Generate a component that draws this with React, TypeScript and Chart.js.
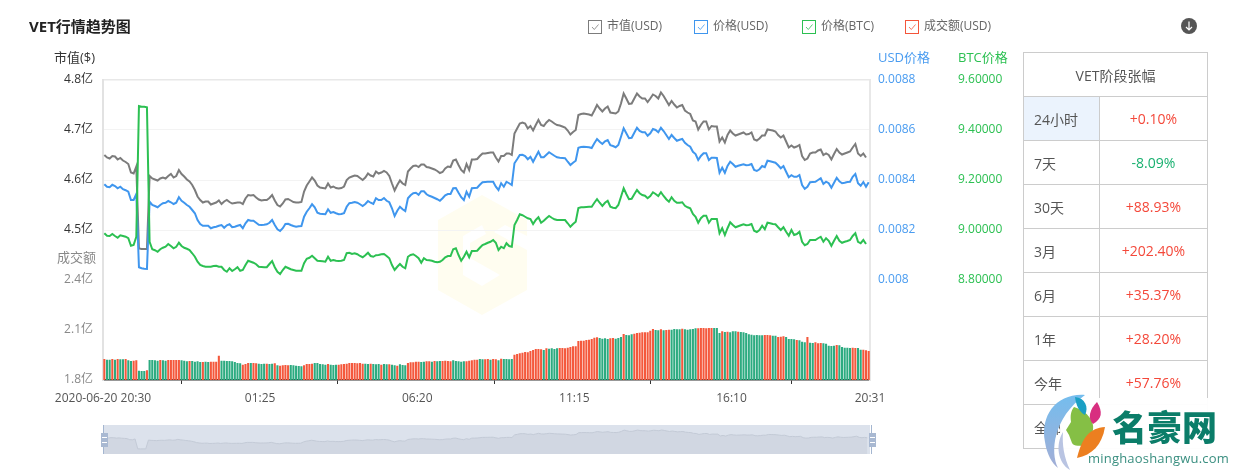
import { useEffect, useRef } from "react"
import { Chart, type ChartConfiguration, registerables } from "chart.js"

Chart.register(...registerables)

const FONT = '"Open Sans", "Noto Sans CJK SC", sans-serif'

// 市值 (亿 USD)
const marketCap = [
  4.650, 4.645, 4.643, 4.648, 4.647, 4.641, 4.644, 4.639, 4.636, 4.632,
  4.615, 4.613, 4.627, 4.463, 4.462, 4.462, 4.462, 4.608, 4.603, 4.601,
  4.599, 4.603, 4.605, 4.603, 4.608, 4.612, 4.605, 4.608, 4.620, 4.612,
  4.607, 4.601, 4.597, 4.590, 4.580, 4.567, 4.560, 4.555, 4.557, 4.557,
  4.551, 4.553, 4.555, 4.559, 4.552, 4.557, 4.560, 4.556, 4.553, 4.554,
  4.555, 4.555, 4.552, 4.563, 4.570, 4.569, 4.570, 4.565, 4.561, 4.559,
  4.560, 4.560, 4.564, 4.570, 4.559, 4.550, 4.547, 4.553, 4.561, 4.562,
  4.559, 4.556, 4.555, 4.555, 4.556, 4.577, 4.589, 4.597, 4.605, 4.599,
  4.589, 4.585, 4.584, 4.583, 4.593, 4.585, 4.587, 4.584, 4.583, 4.584,
  4.587, 4.600, 4.605, 4.607, 4.609, 4.608, 4.604, 4.600, 4.605, 4.613,
  4.609, 4.607, 4.617, 4.613, 4.615, 4.618, 4.615, 4.608, 4.593, 4.579,
  4.590, 4.599, 4.593, 4.590, 4.617, 4.623, 4.628, 4.629, 4.626, 4.631,
  4.631, 4.626, 4.625, 4.623, 4.621, 4.618, 4.614, 4.616, 4.623, 4.627,
  4.626, 4.639, 4.641, 4.630, 4.620, 4.615, 4.632, 4.620, 4.641, 4.641,
  4.642, 4.648, 4.653, 4.653, 4.654, 4.655, 4.655, 4.645, 4.637, 4.648,
  4.648, 4.653, 4.653, 4.650, 4.693, 4.703, 4.713, 4.715, 4.713, 4.703,
  4.708, 4.699, 4.710, 4.720, 4.710, 4.708, 4.715, 4.720, 4.717, 4.713,
  4.710, 4.709, 4.707, 4.705, 4.699, 4.691, 4.696, 4.700, 4.730, 4.732,
  4.733, 4.732, 4.731, 4.729, 4.739, 4.750, 4.743, 4.737, 4.743, 4.747,
  4.735, 4.734, 4.733, 4.737, 4.753, 4.773, 4.763, 4.752, 4.753, 4.763,
  4.773, 4.767, 4.763, 4.763, 4.756, 4.763, 4.771, 4.768, 4.763, 4.775,
  4.768, 4.759, 4.750, 4.758, 4.751, 4.745, 4.748, 4.750, 4.739, 4.735,
  4.732, 4.719, 4.717, 4.701, 4.710, 4.717, 4.717, 4.701, 4.708, 4.707,
  4.707, 4.677, 4.685, 4.675, 4.690, 4.699, 4.693, 4.689, 4.691, 4.693,
  4.695, 4.691, 4.692, 4.695, 4.681, 4.679, 4.683, 4.689, 4.689, 4.701,
  4.700, 4.699, 4.697, 4.690, 4.685, 4.689, 4.677, 4.665, 4.669, 4.665,
  4.667, 4.670, 4.648, 4.640, 4.643, 4.653, 4.655, 4.655, 4.659, 4.661,
  4.650, 4.653, 4.650, 4.641, 4.652, 4.662, 4.655, 4.651, 4.653, 4.655,
  4.657, 4.665, 4.672, 4.653, 4.648, 4.653, 4.645, null,
]

const priceUsd = [
  0.008383, 0.008373, 0.008371, 0.008381, 0.008376, 0.008367, 0.008373, 0.008363, 0.008359, 0.008353,
  0.008320, 0.008320, 0.008344, 0.008051, 0.008047, 0.008045, 0.008044, 0.008313, 0.008300, 0.008296,
  0.008291, 0.008300, 0.008307, 0.008309, 0.008316, 0.008311, 0.008304, 0.008309, 0.008331, 0.008317,
  0.008309, 0.008300, 0.008293, 0.008280, 0.008267, 0.008240, 0.008224, 0.008217, 0.008217, 0.008217,
  0.008207, 0.008211, 0.008213, 0.008217, 0.008220, 0.008209, 0.008219, 0.008223, 0.008211, 0.008213,
  0.008217, 0.008220, 0.008207, 0.008227, 0.008240, 0.008237, 0.008237, 0.008229, 0.008221, 0.008220,
  0.008221, 0.008223, 0.008229, 0.008240, 0.008220, 0.008203, 0.008196, 0.008207, 0.008224, 0.008225,
  0.008220, 0.008216, 0.008213, 0.008215, 0.008216, 0.008253, 0.008273, 0.008287, 0.008303, 0.008291,
  0.008269, 0.008265, 0.008264, 0.008263, 0.008283, 0.008269, 0.008272, 0.008267, 0.008263, 0.008264,
  0.008267, 0.008293, 0.008307, 0.008309, 0.008312, 0.008309, 0.008303, 0.008296, 0.008304, 0.008316,
  0.008309, 0.008304, 0.008327, 0.008320, 0.008320, 0.008328, 0.008317, 0.008311, 0.008287, 0.008256,
  0.008277, 0.008293, 0.008283, 0.008276, 0.008327, 0.008339, 0.008347, 0.008349, 0.008341, 0.008355,
  0.008355, 0.008343, 0.008337, 0.008333, 0.008328, 0.008323, 0.008317, 0.008327, 0.008339, 0.008344,
  0.008344, 0.008367, 0.008368, 0.008349, 0.008331, 0.008320, 0.008353, 0.008333, 0.008367, 0.008368,
  0.008369, 0.008381, 0.008391, 0.008392, 0.008393, 0.008393, 0.008393, 0.008373, 0.008360, 0.008387,
  0.008373, 0.008393, 0.008387, 0.008380, 0.008467, 0.008483, 0.008500, 0.008501, 0.008496, 0.008483,
  0.008493, 0.008473, 0.008493, 0.008513, 0.008491, 0.008491, 0.008501, 0.008511, 0.008504, 0.008497,
  0.008491, 0.008489, 0.008488, 0.008487, 0.008473, 0.008460, 0.008469, 0.008477, 0.008529, 0.008532,
  0.008533, 0.008532, 0.008531, 0.008528, 0.008547, 0.008564, 0.008553, 0.008544, 0.008555, 0.008560,
  0.008539, 0.008536, 0.008531, 0.008540, 0.008573, 0.008607, 0.008587, 0.008567, 0.008569, 0.008589,
  0.008609, 0.008596, 0.008591, 0.008591, 0.008577, 0.008587, 0.008604, 0.008600, 0.008591, 0.008609,
  0.008596, 0.008580, 0.008564, 0.008580, 0.008568, 0.008557, 0.008561, 0.008564, 0.008549, 0.008540,
  0.008533, 0.008513, 0.008504, 0.008480, 0.008496, 0.008507, 0.008507, 0.008480, 0.008489, 0.008489,
  0.008488, 0.008429, 0.008449, 0.008429, 0.008456, 0.008473, 0.008464, 0.008453, 0.008457, 0.008460,
  0.008463, 0.008459, 0.008460, 0.008464, 0.008440, 0.008436, 0.008443, 0.008456, 0.008451, 0.008477,
  0.008475, 0.008472, 0.008469, 0.008459, 0.008447, 0.008456, 0.008433, 0.008411, 0.008419, 0.008413,
  0.008413, 0.008420, 0.008380, 0.008365, 0.008373, 0.008391, 0.008392, 0.008393, 0.008400, 0.008407,
  0.008384, 0.008393, 0.008387, 0.008369, 0.008389, 0.008409, 0.008395, 0.008387, 0.008389, 0.008392,
  0.008393, 0.008413, 0.008424, 0.008387, 0.008377, 0.008392, 0.008373, 0.008391,
]

const priceBtc = [
  8.987, 8.977, 8.976, 8.984, 8.976, 8.969, 8.979, 8.976, 8.973, 8.967,
  8.937, 8.940, 8.973, 9.496, 9.493, 9.493, 9.491, 8.953, 8.923, 8.919,
  8.913, 8.923, 8.929, 8.933, 8.944, 8.936, 8.927, 8.933, 8.949, 8.936,
  8.929, 8.925, 8.920, 8.907, 8.893, 8.873, 8.860, 8.856, 8.853, 8.853,
  8.853, 8.856, 8.857, 8.853, 8.853, 8.840, 8.833, 8.847, 8.836, 8.843,
  8.851, 8.837, 8.840, 8.860, 8.877, 8.873, 8.869, 8.863, 8.853, 8.852,
  8.851, 8.851, 8.864, 8.876, 8.851, 8.833, 8.824, 8.840, 8.853, 8.848,
  8.843, 8.840, 8.837, 8.837, 8.837, 8.867, 8.885, 8.889, 8.897, 8.887,
  8.877, 8.876, 8.875, 8.873, 8.893, 8.877, 8.880, 8.877, 8.876, 8.877,
  8.880, 8.907, 8.909, 8.904, 8.907, 8.903, 8.896, 8.891, 8.899, 8.909,
  8.896, 8.893, 8.899, 8.900, 8.903, 8.904, 8.896, 8.887, 8.860, 8.840,
  8.853, 8.864, 8.853, 8.847, 8.893, 8.900, 8.903, 8.896, 8.887, 8.869,
  8.887, 8.880, 8.879, 8.877, 8.873, 8.871, 8.873, 8.880, 8.891, 8.896,
  8.896, 8.923, 8.927, 8.900, 8.877, 8.893, 8.913, 8.891, 8.916, 8.916,
  8.917, 8.929, 8.940, 8.944, 8.949, 8.953, 8.960, 8.949, 8.920, 8.933,
  8.927, 8.947, 8.936, 8.933, 9.020, 9.040, 9.063, 9.059, 9.053, 9.047,
  9.044, 9.024, 9.040, 9.051, 9.029, 9.037, 9.047, 9.056, 9.049, 9.043,
  9.040, 9.040, 9.040, 9.040, 9.027, 9.013, 9.024, 9.033, 9.088, 9.091,
  9.091, 9.092, 9.093, 9.093, 9.109, 9.123, 9.109, 9.096, 9.109, 9.117,
  9.093, 9.089, 9.087, 9.100, 9.133, 9.167, 9.144, 9.123, 9.125, 9.143,
  9.160, 9.147, 9.140, 9.137, 9.127, 9.136, 9.151, 9.144, 9.136, 9.151,
  9.136, 9.123, 9.113, 9.131, 9.117, 9.109, 9.109, 9.111, 9.097, 9.091,
  9.087, 9.064, 9.053, 9.029, 9.047, 9.057, 9.057, 9.029, 9.044, 9.044,
  9.044, 8.987, 9.007, 8.980, 9.007, 9.031, 9.020, 9.011, 9.015, 9.019,
  9.023, 9.019, 9.020, 9.024, 8.997, 8.992, 9.000, 9.017, 9.003, 9.029,
  9.027, 9.024, 9.023, 9.011, 9.000, 9.011, 8.993, 8.977, 9.000, 8.980,
  8.984, 8.993, 8.953, 8.939, 8.944, 8.960, 8.960, 8.960, 8.967, 8.973,
  8.953, 8.967, 8.957, 8.937, 8.957, 8.976, 8.957, 8.949, 8.953, 8.956,
  8.960, 8.976, 8.987, 8.953, 8.947, 8.960, 8.944, null,
]

// 成交额 (亿 USD)
const volume = [
  1.926, 1.922, 1.922, 1.926, 1.922, 1.926, 1.924, 1.924, 1.926, 1.918,
  1.914, 1.916, 1.918, 1.856, 1.854, 1.854, 1.858, 1.920, 1.920, 1.918,
  1.916, 1.920, 1.918, 1.916, 1.920, 1.920, 1.920, 1.920, 1.920, 1.918,
  1.916, 1.912, 1.914, 1.914, 1.910, 1.912, 1.908, 1.908, 1.910, 1.908,
  1.910, 1.910, 1.910, 1.946, 1.916, 1.916, 1.914, 1.914, 1.912, 1.908,
  1.902, 1.900, 1.892, 1.896, 1.902, 1.902, 1.902, 1.900, 1.898, 1.896,
  1.898, 1.898, 1.896, 1.898, 1.900, 1.888, 1.886, 1.888, 1.890, 1.888,
  1.890, 1.888, 1.886, 1.884, 1.882, 1.888, 1.896, 1.896, 1.898, 1.902,
  1.902, 1.896, 1.894, 1.892, 1.896, 1.892, 1.890, 1.892, 1.892, 1.894,
  1.896, 1.898, 1.902, 1.902, 1.902, 1.900, 1.902, 1.898, 1.898, 1.896,
  1.898, 1.896, 1.894, 1.896, 1.892, 1.896, 1.894, 1.894, 1.892, 1.888,
  1.886, 1.894, 1.890, 1.888, 1.902, 1.906, 1.906, 1.910, 1.910, 1.908,
  1.910, 1.912, 1.912, 1.910, 1.914, 1.912, 1.914, 1.914, 1.916, 1.914,
  1.912, 1.918, 1.914, 1.912, 1.910, 1.912, 1.912, 1.916, 1.918, 1.922,
  1.922, 1.926, 1.924, 1.924, 1.926, 1.922, 1.926, 1.924, 1.918, 1.928,
  1.926, 1.926, 1.924, 1.926, 1.952, 1.956, 1.960, 1.964, 1.968, 1.966,
  1.974, 1.980, 1.986, 1.986, 1.984, 1.980, 1.990, 1.988, 1.990, 1.986,
  1.990, 1.992, 1.992, 1.990, 1.994, 1.998, 2.002, 2.002, 2.034, 2.036,
  2.036, 2.040, 2.042, 2.046, 2.054, 2.056, 2.052, 2.048, 2.050, 2.046,
  2.050, 2.052, 2.048, 2.052, 2.058, 2.076, 2.070, 2.068, 2.074, 2.078,
  2.082, 2.084, 2.086, 2.086, 2.086, 2.096, 2.106, 2.100, 2.098, 2.104,
  2.098, 2.100, 2.102, 2.102, 2.106, 2.104, 2.104, 2.108, 2.104, 2.102,
  2.104, 2.106, 2.110, 2.110, 2.112, 2.112, 2.110, 2.112, 2.112, 2.112,
  2.112, 2.082, 2.092, 2.088, 2.090, 2.086, 2.092, 2.092, 2.090, 2.088,
  2.086, 2.082, 2.074, 2.072, 2.068, 2.070, 2.068, 2.068, 2.070, 2.070,
  2.068, 2.066, 2.066, 2.058, 2.060, 2.062, 2.058, 2.046, 2.046, 2.044,
  2.040, 2.038, 2.030, 2.026, 2.058, 2.024, 2.022, 2.026, 2.020, 2.022,
  2.020, 2.018, 2.006, 2.004, 2.006, 2.010, 2.008, 1.998, 1.994, 1.994,
  1.992, 1.994, 1.992, 1.992, 1.982, 1.982, 1.978, 1.974,
]

// r = 涨, g = 跌
const volumeSide = (
  "rggrgrggrg" + "grrgggrggg" + "grggrrrrrg" + "ggrggggrgg" + "rrrrgggggg" + "ggrrrgrrgg" +
  "grggrgrrrr" + "gggggrrrrg" + "ggggrgggrr" + "rrrrrrrrgg" + "rgggrggrgg" + "rgggrrrrrg" +
  "grrgrggrrr" + "rgggggrrrr" + "rggrrgrrgr" + "ggggrrrrrr" + "rrrrrgrggg" + "grrrrrrrrr" +
  "rrrrrrgggg" + "rrgggrgggr" + "rrrrrrrggr" + "grrggggrgg" + "gggrrrrrrg" + "ggrgrgggrg" +
  "ggggggggrr" + "rggrrrgggg" + "rgggrggrrr" + "gggggrgggg" + "grrggrrr"
).split("")

const timeLabels = marketCap.map((_, i) => {
  const m = (20 * 60 + 30 + i * 5) % 1440
  return `${String(Math.floor(m / 60)).padStart(2, "0")}:${String(m % 60).padStart(2, "0")}`
})

// x 轴文字和刻度线不在同一位置
const axisLabels: Record<string, string> = {
  "-0.5": "2020-06-20 20:30",
  "58.5": "01:25",
  "117.5": "06:20",
  "176.5": "11:15",
  "235.5": "16:10",
  "287.5": "20:31",
}
const axisMarks = [29, 87.5, 146.5, 205, 258]

const legendItems = [
  { label: "市值(USD)", color: "#7c7c7c", x: 588 },
  { label: "价格(USD)", color: "#3f96ee", x: 694 },
  { label: "价格(BTC)", color: "#2cc052", x: 802 },
  { label: "成交额(USD)", color: "#f4553a", x: 905 },
]

const rangeRows = [
  ["24小时", "+0.10%"],
  ["7天", "-8.09%"],
  ["30天", "+88.93%"],
  ["3月", "+202.40%"],
  ["6月", "+35.37%"],
  ["1年", "+28.20%"],
  ["今年", "+57.76%"],
  ["全部", ""],
]

function label(text: string, x: number, y: number, color: string, extra: object = {}) {
  return (
    <div style={{ position: "absolute", left: x, top: y, color, fontSize: 12, lineHeight: "16px", whiteSpace: "nowrap", ...extra }}>
      {text}
    </div>
  )
}

function handle(x: number) {
  return (
    <>
      <div style={{ position: "absolute", left: x, top: 433, width: 7, height: 14, background: "#a9b9d2" }} />
      <div style={{ position: "absolute", left: x + 1, top: 437, width: 5, height: 1, background: "#fff" }} />
      <div style={{ position: "absolute", left: x + 1, top: 442, width: 5, height: 1, background: "#fff" }} />
    </>
  )
}

export default function App() {
  const canvasRef = useRef<HTMLCanvasElement>(null)
  const miniRef = useRef<HTMLCanvasElement>(null)

  useEffect(() => {
    if (!canvasRef.current || !miniRef.current) return
    const ctx = canvasRef.current.getContext("2d")
    const miniCtx = miniRef.current.getContext("2d")
    if (!ctx || !miniCtx) return

    const lineDefaults = { type: "line", pointRadius: 0, borderWidth: 2, tension: 0, spanGaps: false }
    const tickFont = { size: 12, family: FONT }

    const config: ChartConfiguration = {
      type: "bar",
      data: {
        labels: timeLabels,
        datasets: [
          { ...lineDefaults, label: "市值(USD)", data: marketCap, borderColor: "#7c7c7c", yAxisID: "cap", order: 3 },
          { ...lineDefaults, label: "价格(USD)", data: priceUsd, borderColor: "#3f96ee", yAxisID: "usd", order: 2 },
          { ...lineDefaults, label: "价格(BTC)", data: priceBtc, borderColor: "#2cc052", yAxisID: "btc", order: 1 },
          {
            type: "bar",
            label: "成交额(USD)",
            data: volume,
            backgroundColor: volumeSide.map((s) => (s === "r" ? "#f4583c" : "#2cab80")),
            barPercentage: 0.78,
            categoryPercentage: 1,
            yAxisID: "vol",
            order: 4,
          },
        ] as any,
      },
      options: {
        responsive: false,
        animation: false,
        layout: { padding: { top: 80, left: 0, right: 0, bottom: 0 } },
        plugins: { legend: { display: false }, tooltip: { enabled: false } },
        scales: {
          x: {
            type: "category",
            offset: true,
            afterBuildTicks: (scale: any) => {
              const values = [...Object.keys(axisLabels).map(Number), ...axisMarks].sort((a, b) => a - b)
              scale.ticks = values.map((value) => ({ value }))
            },
            afterFit: (scale: any) => {
              scale.height = 90
            },
            ticks: {
              autoSkip: false,
              maxRotation: 0,
              padding: 7,
              color: "#555",
              font: tickFont,
              callback: (value: any) => axisLabels[String(value)] ?? "",
            },
            grid: {
              offset: false,
              drawOnChartArea: false,
              tickLength: 4,
              tickColor: (c: any) => (axisMarks.includes(c.tick?.value) ? "#333" : "transparent"),
            },
            border: { color: "#333", width: 1.5 },
          },
          vol: {
            type: "linear",
            position: "left",
            stack: "left",
            stackWeight: 1,
            weight: 0,
            min: 1.8,
            max: 2.4,
            afterFit: (scale: any) => {
              scale.width = 103
            },
            ticks: {
              stepSize: 0.3,
              color: "#888",
              font: tickFont,
              padding: 10,
              callback: (v: any) => `${Number(v).toFixed(1)}亿`,
            },
            grid: { display: false, drawTicks: false },
            border: { color: "#e2e2e2", width: 2 },
          },
          cap: {
            type: "linear",
            position: "left",
            stack: "left",
            stackWeight: 2,
            weight: 1,
            min: 4.4,
            max: 4.8,
            afterFit: (scale: any) => {
              scale.width = 103
            },
            ticks: {
              stepSize: 0.1,
              color: "#333",
              font: tickFont,
              padding: 10,
              callback: (v: any) => (Number(v) < 4.45 ? null : `${Number(v).toFixed(1)}亿`),
            },
            grid: {
              drawTicks: false,
              color: (c: any) => {
                const v = c.tick?.value
                return v < 4.45 || v > 4.75 ? "#e8e8e8" : "#f3f3f3"
              },
              lineWidth: (c: any) => {
                const v = c.tick?.value
                return v < 4.45 || v > 4.75 ? 1.5 : 1
              },
            },
            border: { color: "#e2e2e2", width: 2 },
          },
          usd: {
            type: "linear",
            position: "right",
            weight: 0,
            min: 0.0076,
            max: 0.0088,
            afterFit: (scale: any) => {
              scale.width = 80
            },
            ticks: {
              stepSize: 0.0002,
              color: "#4a9cf0",
              font: tickFont,
              padding: 8,
              callback: (v: any) => (Number(v) < 0.00799 ? null : String(Number(Number(v).toFixed(4)))),
            },
            grid: { display: false, drawTicks: false },
            border: { color: "#e8e8e8", width: 2 },
          },
          btc: {
            type: "linear",
            position: "right",
            weight: 1,
            min: 8.4,
            max: 9.6,
            afterFit: (scale: any) => {
              scale.width = 287
            },
            ticks: {
              stepSize: 0.2,
              color: "#2cc052",
              font: tickFont,
              padding: 8,
              callback: (v: any) => (Number(v) < 8.79 ? null : Number(v).toFixed(5)),
            },
            grid: { display: false, drawTicks: false },
            border: { display: false },
          },
        },
      } as any,
    }

    const chart = new Chart(ctx, config)

    // 底部缩略图
    const mini = new Chart(miniCtx, {
      type: "line",
      data: {
        labels: timeLabels,
        datasets: [
          {
            data: marketCap,
            borderColor: "#c3cad6",
            borderWidth: 1,
            backgroundColor: "#d1d7e2",
            fill: "start",
            pointRadius: 0,
          },
        ],
      },
      options: {
        responsive: false,
        animation: false,
        layout: { padding: 0 },
        plugins: { legend: { display: false }, tooltip: { enabled: false } },
        scales: {
          x: { display: false },
          y: { display: false, min: 4.377, max: 4.858 },
        },
      },
    })

    return () => {
      chart.destroy()
      mini.destroy()
    }
  }, [])

  return (
    <div style={{ position: "absolute", left: 0, top: 0, width: 1237, height: 470, overflow: "hidden", fontFamily: FONT, background: "#fff" }}>
      {/* 中间水印 */}
      <svg width={1237} height={470} style={{ position: "absolute", left: 0, top: 0 }}>
        <path d="M482 195 L527 220 V290 L482 315 L438 290 V220 Z" fill="#fffdf0" />
        <path d="M482 225 L463 236 V275 L482 286 L500 275 L470 258 V243 L486 234 Z" fill="#fff" />
        <path d="M527 236 L505 225 L494 232 L527 250 Z" fill="#fff" />
      </svg>

      <canvas ref={canvasRef} width={1237} height={470} style={{ position: "absolute", left: 0, top: 0 }} />

      {label("VET行情趋势图", 29, 17, "#222", { fontSize: 15, fontWeight: 700, lineHeight: "18px" })}
      {label("市值($)", 54, 49, "#333", { fontSize: 13 })}
      {label("成交额", 57, 249, "#888", { fontSize: 13 })}
      {label("USD价格", 878, 49, "#4a9cf0", { fontSize: 13 })}
      {label("BTC价格", 958, 49, "#2cc052", { fontSize: 13 })}

      {legendItems.map((item) => (
        <div key={item.label}>
          <svg width={14} height={14} style={{ position: "absolute", left: item.x, top: 20 }}>
            <rect x={0.5} y={0.5} width={13} height={13} fill="#fff" stroke={item.color} />
            <path d="M4 7 L6.3 9.5 L10.5 4.5" fill="none" stroke={item.color} strokeWidth={0.8} />
          </svg>
          {label(item.label, item.x + 19, 18, "#666")}
        </div>
      ))}

      <svg width={16} height={16} style={{ position: "absolute", left: 1181, top: 18 }}>
        <circle cx={8} cy={8} r={8} fill="#555" />
        <path d="M8 3.5 V12 M5 9 L8 12 L11 9" fill="none" stroke="#fff" strokeWidth={1.2} />
      </svg>

      {/* 阶段涨幅表 */}
      <table
        style={{
          position: "absolute",
          left: 1023,
          top: 52,
          width: 184,
          height: 397,
          borderCollapse: "collapse",
          tableLayout: "fixed",
          fontSize: 14,
          color: "#555",
        }}
      >
        <colgroup>
          <col style={{ width: 76 }} />
          <col style={{ width: 108 }} />
        </colgroup>
        <tbody>
          <tr style={{ height: 44 }}>
            <td colSpan={2} style={{ border: "1px solid #ccc", textAlign: "center", padding: 0 }}>
              VET阶段张幅
            </td>
          </tr>
          {rangeRows.map(([name, value], i) => (
            <tr key={name} style={{ height: 44 }}>
              <td style={{ border: "1px solid #ccc", padding: "0 0 0 10px", background: i === 0 ? "#ebf3fd" : "#fff" }}>{name}</td>
              <td style={{ border: "1px solid #ccc", padding: 0, textAlign: "center", color: value.startsWith("-") ? "#18b06f" : "#f4483a" }}>{value}</td>
            </tr>
          ))}
        </tbody>
      </table>

      {/* 缩略图 */}
      <div style={{ position: "absolute", left: 103, top: 425, width: 767, height: 29, background: "#dce2ec" }}>
        <canvas ref={miniRef} width={767} height={29} style={{ display: "block" }} />
      </div>
      <div style={{ position: "absolute", left: 103, top: 425, width: 1, height: 29, background: "#a4b6d0" }} />
      <div style={{ position: "absolute", left: 871, top: 425, width: 1, height: 29, background: "#a4b6d0" }} />
      {handle(101)}
      {handle(869)}

      {/* 右下角水印 */}
      <div style={{ position: "absolute", left: 1060, top: 398, width: 177, height: 72, background: "rgba(255,255,255,0.95)" }} />
      <svg width={150} height={90} style={{ position: "absolute", left: 1030, top: 385 }}>
        <defs>
          <linearGradient id="arc" x1="0" y1="0" x2="0" y2="1">
            <stop offset="0" stopColor="#74bdee" />
            <stop offset="1" stopColor="#a3aed6" />
          </linearGradient>
        </defs>
        <path d="M55 10 C27 8 10 30 15 57 C17 70 22 78 28 83 C20 67 23 33 55 10 Z" fill="url(#arc)" />
        <path d="M33 47 C25 60 28 78 40 85 C34 72 32 60 33 47 Z" fill="#b9c4e2" />
        <path d="M44 22 C55 25 65 35 63 45 L58 62 C50 60 44 62 42 58 L39 50 L36 45 L41 37 C40 30 41 26 44 22 Z" fill="#85bf45" />
        <path d="M45 12 C55 13 59 22 55 30 C49 27 46 20 45 12 Z" fill="#1a9fc4" />
        <path d="M67 17 C73 27 72 34 63 39 C57 33 60 24 67 17 Z" fill="#d82f80" />
        <path d="M75 42 C60 43 52 52 47 73 C62 70 72 60 75 42 Z" fill="#ec7f20" />
      </svg>
      <div
        style={{
          position: "absolute",
          left: 1112,
          top: 401,
          fontSize: 35,
          fontWeight: 900,
          fontFamily: '"Noto Sans CJK SC"',
          color: "#0b7d69",
          lineHeight: "50px",
          whiteSpace: "nowrap",
        }}
      >
        名豪网
      </div>
      {label("minghaoshangwu.com", 1088, 450, "#3a8f80", { fontSize: 13, letterSpacing: 0.2 })}
    </div>
  )
}
